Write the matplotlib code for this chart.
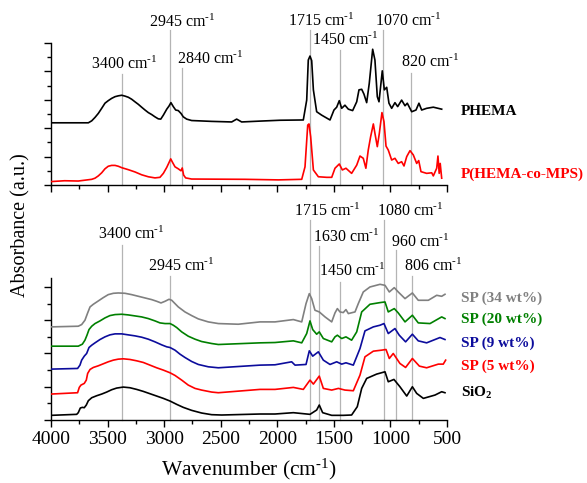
import matplotlib
matplotlib.use("Agg")
import matplotlib.pyplot as plt
from matplotlib.ticker import MultipleLocator, NullFormatter

plt.rcParams['font.family'] = ['Liberation Serif', 'DejaVu Serif']
plt.rcParams['mathtext.fontset'] = 'custom'
plt.rcParams['mathtext.rm'] = 'Liberation Serif'
plt.rcParams['mathtext.it'] = 'Liberation Serif:italic'
plt.rcParams['mathtext.bf'] = 'Liberation Serif:bold'

# ---------------- data: top panel ----------------
phema_wn = [4000, 3670, 3640, 3611, 3582, 3552, 3523, 3494, 3464, 3434, 3405, 3375, 3346, 3317,
            3287, 3258, 3228, 3199, 3169, 3140, 3110, 3081, 3052, 3030, 3007, 2977, 2957, 2940,
            2919, 2898, 2875, 2851, 2831, 2801, 2757, 2580, 2403, 2359, 2315, 2153, 1976, 1770,
            1740, 1726, 1711, 1696, 1681, 1652, 1608, 1534, 1499, 1475, 1452, 1431, 1402, 1372,
            1334, 1298, 1278, 1254, 1234, 1210, 1187, 1157, 1137, 1116, 1101, 1072, 1054, 1033,
            1013, 989, 960, 936, 901, 871, 851, 812, 774, 748, 724, 680, 621, 547]
phema_abs = [2.19, 2.19, 2.26, 2.38, 2.52, 2.70, 2.88, 2.97, 3.05, 3.11, 3.14, 3.16, 3.13, 3.09,
             3.02, 2.93, 2.84, 2.74, 2.64, 2.55, 2.48, 2.40, 2.33, 2.32, 2.46, 2.67, 2.78, 2.90,
             2.76, 2.64, 2.62, 2.52, 2.40, 2.32, 2.27, 2.24, 2.22, 2.32, 2.22, 2.25, 2.28, 2.29,
             2.99, 4.40, 4.54, 4.38, 3.35, 2.58, 2.46, 2.29, 2.64, 2.74, 2.97, 2.70, 2.81, 2.67,
             2.62, 2.93, 3.35, 3.37, 3.20, 2.90, 3.58, 4.78, 4.40, 3.11, 2.93, 4.02, 3.35, 3.44,
             2.88, 2.70, 2.90, 2.76, 2.99, 2.79, 2.88, 2.58, 2.64, 2.88, 2.64, 2.70, 2.74, 2.67]

pmps_wn = [4000, 3880, 3759, 3640, 3611, 3582, 3552, 3523, 3494, 3464, 3434, 3405, 3375, 3317,
           3258, 3199, 3140, 3081, 3037, 3007, 2977, 2957, 2942, 2925, 2904, 2875, 2851, 2840,
           2828, 2810, 2757, 2285, 1990, 1784, 1755, 1731, 1720, 1705, 1681, 1637, 1563, 1519,
           1490, 1452, 1425, 1393, 1343, 1298, 1269, 1240, 1217, 1196, 1175, 1151, 1137, 1116,
           1098, 1075, 1057, 1039, 1019, 989, 960, 931, 901, 880, 856, 827, 798, 768, 750, 730,
           680, 635, 621, 591, 580, 569, 560, 547]
pmps_abs = [0.12, 0.15, 0.14, 0.20, 0.24, 0.32, 0.43, 0.57, 0.66, 0.69, 0.69, 0.66, 0.61, 0.54,
            0.46, 0.36, 0.29, 0.25, 0.27, 0.41, 0.62, 0.79, 0.92, 0.79, 0.64, 0.57, 0.50, 0.60,
            0.35, 0.25, 0.21, 0.20, 0.18, 0.20, 0.64, 2.11, 2.15, 1.70, 0.53, 0.29, 0.27, 0.27,
            0.59, 0.74, 0.53, 0.59, 0.41, 0.70, 1.02, 0.94, 0.59, 1.23, 1.70, 2.15, 1.82, 1.35,
            1.82, 2.55, 2.23, 1.37, 1.23, 0.88, 0.94, 0.76, 0.82, 0.67, 1.00, 1.21, 1.06, 0.76, 0.86, 0.47,
            0.41, 0.43, 0.32, 0.59, 1.02, 0.41, 0.76, 0.24]

# ---------------- data: bottom panel ----------------
sp34_wn = [4000, 3759, 3729, 3700, 3676, 3655, 3626, 3582, 3538, 3494, 3449, 3405, 3346, 3287,
           3228, 3169, 3110, 3066, 3028, 2992, 2957, 2933, 2904, 2875, 2816, 2757, 2698, 2610,
           2521, 2345, 2153, 2020, 1858, 1784, 1746, 1717, 1696, 1667, 1629, 1578, 1519, 1490,
           1469, 1446, 1417, 1393, 1372, 1313, 1284, 1240, 1181, 1092, 1048, 1010, 966, 931,
           871, 806, 754, 665, 591, 547, 518]
sp34_abs = [2.80, 2.82, 2.87, 3.00, 3.22, 3.40, 3.48, 3.58, 3.68, 3.77, 3.81, 3.82, 3.81, 3.77,
            3.72, 3.67, 3.62, 3.57, 3.52, 3.57, 3.63, 3.60, 3.50, 3.40, 3.25, 3.14, 3.04, 2.95,
            2.90, 2.88, 2.95, 2.95, 3.02, 2.95, 3.50, 3.80, 3.65, 3.30, 3.25, 3.10, 2.95, 3.22,
            3.35, 3.25, 3.23, 3.32, 3.20, 3.25, 3.50, 3.85, 4.00, 4.08, 4.05, 3.85, 3.98, 3.85,
            3.65, 3.82, 3.60, 3.60, 3.75, 3.72, 3.78]

sp20_wn = [4000, 3759, 3723, 3700, 3682, 3664, 3640, 3611, 3567, 3523, 3479, 3434, 3375, 3317,
           3258, 3199, 3140, 3081, 3037, 2992, 2948, 2919, 2889, 2845, 2787, 2727, 2669, 2580,
           2521, 2153, 2020, 1858, 1784, 1740, 1711, 1687, 1652, 1629, 1593, 1519, 1490, 1469,
           1431, 1393, 1343, 1298, 1254, 1181, 1092, 1048, 1019, 966, 931, 871, 806, 754, 650,
           547, 518]
sp20_abs = [2.22, 2.22, 2.28, 2.40, 2.55, 2.72, 2.82, 2.90, 2.98, 3.07, 3.14, 3.17, 3.18, 3.16,
            3.13, 3.10, 3.05, 2.98, 2.92, 2.90, 2.90, 2.85, 2.78, 2.65, 2.52, 2.43, 2.36, 2.30,
            2.27, 2.32, 2.33, 2.38, 2.32, 2.60, 2.98, 2.72, 2.58, 2.65, 2.45, 2.35, 2.50, 2.55,
            2.45, 2.50, 2.40, 2.65, 3.25, 3.48, 3.53, 3.55, 3.25, 3.35, 3.22, 2.95, 3.15, 2.92, 2.90,
            3.10, 3.05]

sp9_wn = [4000, 3765, 3744, 3729, 3706, 3685, 3664, 3640, 3611, 3567, 3523, 3479, 3434, 3375,
          3317, 3258, 3199, 3140, 3081, 3022, 2977, 2948, 2904, 2860, 2816, 2757, 2698, 2610,
          2521, 2153, 2020, 1873, 1843, 1746, 1717, 1687, 1637, 1593, 1534, 1475, 1431, 1393,
          1328, 1269, 1225, 1151, 1092, 1057, 1019, 960, 922, 866, 806, 754, 680, 562, 518]
sp9_abs = [1.53, 1.55, 1.65, 1.80, 1.92, 2.00, 2.18, 2.25, 2.32, 2.42, 2.50, 2.56, 2.59, 2.59,
           2.56, 2.53, 2.49, 2.43, 2.35, 2.26, 2.20, 2.18, 2.10, 1.98, 1.88, 1.76, 1.67, 1.60,
           1.57, 1.65, 1.66, 1.75, 1.65, 1.67, 2.08, 1.92, 2.05, 1.80, 1.67, 1.75, 1.68, 1.72,
           1.65, 2.15, 2.68, 2.80, 2.85, 2.90, 2.60, 2.75, 2.55, 2.35, 2.58, 2.38, 2.32, 2.48, 2.42]

sp5_wn = [4000, 3765, 3750, 3735, 3706, 3688, 3676, 3655, 3626, 3582, 3538, 3494, 3449, 3405,
          3361, 3302, 3243, 3184, 3125, 3066, 3007, 2948, 2904, 2845, 2787, 2727, 2669, 2580,
          2521, 2153, 2020, 1858, 1770, 1711, 1681, 1629, 1593, 1519, 1460, 1402, 1328, 1269,
          1225, 1151, 1078, 1039, 1010, 975, 916, 866, 806, 744, 680, 577, 533, 512]
sp5_abs = [0.78, 0.82, 0.98, 1.05, 1.10, 1.20, 1.40, 1.52, 1.58, 1.63, 1.69, 1.75, 1.80, 1.83,
           1.84, 1.82, 1.78, 1.73, 1.65, 1.57, 1.50, 1.42, 1.34, 1.20, 1.05, 0.95, 0.90, 0.84,
           0.82, 0.92, 0.92, 0.98, 0.92, 1.20, 1.08, 1.32, 0.95, 0.90, 0.95, 0.90, 0.88, 1.35,
           1.90, 2.07, 2.10, 2.12, 1.85, 2.00, 1.70, 1.58, 1.85, 1.62, 1.57, 1.68, 1.68, 1.80]

sio2_wn = [4000, 3773, 3759, 3741, 3723, 3706, 3688, 3670, 3640, 3596, 3552, 3508, 3464, 3420,
           3361, 3302, 3243, 3184, 3125, 3066, 3007, 2948, 2889, 2831, 2757, 2669, 2580, 2491,
           2153, 2020, 1858, 1711, 1652, 1629, 1599, 1519, 1417, 1343, 1293, 1254, 1210, 1122,
           1048, 1019, 969, 916, 856, 806, 768, 709, 606, 547, 518]
sio2_abs = [0.14, 0.17, 0.22, 0.36, 0.38, 0.37, 0.45, 0.58, 0.67, 0.73, 0.78, 0.84, 0.91, 0.96,
            0.99, 0.97, 0.92, 0.86, 0.79, 0.72, 0.65, 0.57, 0.47, 0.38, 0.29, 0.21, 0.16, 0.15,
            0.18, 0.18, 0.22, 0.17, 0.30, 0.45, 0.22, 0.14, 0.14, 0.15, 0.40, 0.95, 1.25, 1.38,
            1.45, 1.15, 1.22, 1.00, 0.72, 1.00, 0.80, 0.65, 0.75, 0.85, 0.82]

# peak labels
top_peak_labels = ["3400", "2945", "2840", "1715", "1450", "1070", "820"]
top_peak_lines = [3375, 2945, 2840, 1715, 1450, 1070, 820]
bot_peak_labels = ["3400", "2945", "1715", "1630", "1450", "1080", "960", "806"]
bot_peak_lines = [3375, 2945, 1715, 1630, 1450, 1055, 955, 806]

# label layout (x centre in wavenumber, text y / line top in axes fraction)
top_text_x = [3355, 2842, 2595, 1614, 1402, 845, 650]
top_text_y = [0.852, 1.148, 0.887, 1.155, 1.021, 1.155, 0.866]
top_line_top = [0.782, 1.092, 0.824, 1.092, 0.951, 1.092, 0.789]
bot_text_x = [3293, 2851, 1561, 1393, 1340, 827, 739, 624]
bot_text_y = [1.31, 1.085, 1.472, 1.289, 1.049, 1.472, 1.254, 1.085]
bot_line_top = [1.232, 1.014, 1.408, 1.225, 0.972, 1.408, 1.197, 1.014]

W, H = 587, 483
fig = plt.figure(figsize=(W / 100, H / 100), dpi=100)
axL = 51 / W
axW = (447 - 51) / W
axH = 142 / H
ax_top = fig.add_axes([axL, 1 - 185 / H, axW, axH])
ax_bot = fig.add_axes([axL, 1 - 420 / H, axW, axH])

GRID = '#b4b4b4'

def style(ax, ymax, yminor):
    ax.set_xlim(4000, 500)
    ax.set_ylim(0, ymax)
    for s in ['top', 'right']:
        ax.spines[s].set_visible(False)
    for s in ['left', 'bottom']:
        ax.spines[s].set_linewidth(1.0)
    ax.xaxis.set_major_locator(MultipleLocator(500))
    ax.xaxis.set_minor_locator(MultipleLocator(250))
    ax.yaxis.set_major_locator(MultipleLocator(1))
    ax.yaxis.set_minor_locator(MultipleLocator(yminor))
    ax.yaxis.set_major_formatter(NullFormatter())
    ax.tick_params(which='major', direction='out', length=5, width=1.0)
    ax.tick_params(which='minor', direction='out', length=3, width=1.0)
    ax.patch.set_alpha(0)

style(ax_top, 5.0, 0.5)
style(ax_bot, 4.27, 0.5)
ax_top.xaxis.set_major_formatter(NullFormatter())
ax_bot.tick_params(axis='x', labelsize=14, pad=3)

lw = 1.2
ax_top.plot(phema_wn, phema_abs, color='black', lw=lw, zorder=3)
ax_top.plot(pmps_wn, pmps_abs, color='#ff0000', lw=lw, zorder=3)

ax_bot.plot(sp34_wn, sp34_abs, color='#808080', lw=lw, zorder=3)
ax_bot.plot(sp20_wn, sp20_abs, color='#008000', lw=lw, zorder=3)
ax_bot.plot(sp9_wn, sp9_abs, color='#0c0c9c', lw=lw, zorder=3)
ax_bot.plot(sp5_wn, sp5_abs, color='#ff0000', lw=lw, zorder=3)
ax_bot.plot(sio2_wn, sio2_abs, color='black', lw=lw, zorder=3)

SUP = r' cm$^{\text{-1}}$'

def peaks(ax, labels, lines, tx, ty, ltop):
    for lab, lx, x, y, top in zip(labels, lines, tx, ty, ltop):
        ax.axvline(lx, ymin=0, ymax=top, color=GRID, lw=0.9, clip_on=False, zorder=1)
        ax.text(x, y, lab + SUP, transform=ax.get_xaxis_transform(),
                ha='center', va='center', fontsize=11.5, clip_on=False)

peaks(ax_top, top_peak_labels, top_peak_lines, top_text_x, top_text_y, top_line_top)
peaks(ax_bot, bot_peak_labels, bot_peak_lines, bot_text_x, bot_text_y, bot_line_top)

series_names = ['PHEMA', 'P(HEMA-co-MPS)', 'SP (34 wt%)', 'SP (20 wt%)', 'SP (9 wt%)',
                'SP (5 wt%)', r'SiO$_{\mathbf{2}}$']
series_colors = ['black', '#ff0000', '#808080', '#008000', '#0c0c9c', '#ff0000', 'black']
series_baseline_px = [115, 178, 302, 323, 347, 370, 397]
for name, c, yb in zip(series_names, series_colors, series_baseline_px):
    fig.text(461 / W, 1 - yb / H, name, color=c, fontsize=11, fontweight='bold',
             ha='left', va='baseline')

fig.text(21 / W, 1 - 225 / H, 'Absorbance (a.u.)', rotation=90, fontsize=14.5,
         ha='center', va='center')
ax_bot.set_xlabel(r'Wavenumber (cm$^{\text{-1}}$)', fontsize=15.5, labelpad=6)

fig.savefig('out.png', dpi=100)
